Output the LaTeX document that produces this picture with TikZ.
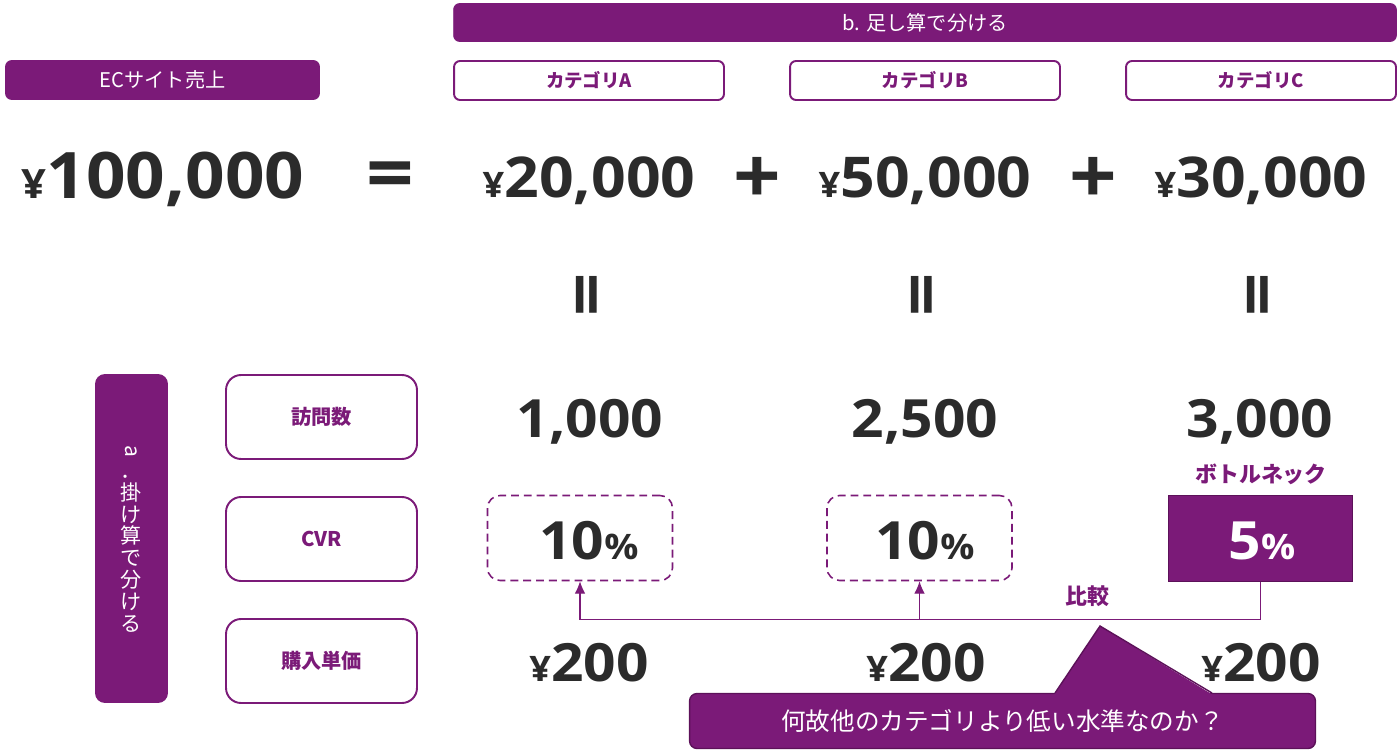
\documentclass[tikz,border=0pt]{standalone}
\usepackage{fontspec}
\setmainfont{Noto Sans CJK JP}
\newfontfamily\numfont{Open Sans}[FakeStretch=1.08]
\usetikzlibrary{arrows.meta}
\definecolor{cPurple}{HTML}{7B1A78}
\definecolor{cdPurple}{HTML}{5C1159}
\definecolor{cText}{HTML}{2B2B2B}
\newcommand{\smallyen}{{\fontsize{20}{20}\selectfont ¥}}
\newcommand{\smallpct}{{\fontsize{20}{20}\selectfont\%}}
\tikzset{>={Latex[length=7pt,width=6pt]}}
\tikzset{
	headbox/.style={fill=cPurple, draw=cPurple, rounded corners=1.2mm, text=white, font=\fontsize{11.5}{13}\selectfont},
	catbox/.style={draw=cPurple, line width=1.1pt, fill=white, rounded corners=1.2mm, minimum width=5.4cm, minimum height=0.78cm, text=cPurple, font=\bfseries\fontsize{10.5}{12}\selectfont},
	factorbox/.style={catbox, rounded corners=3mm, minimum width=3.82cm, minimum height=1.68cm, font=\bfseries\fontsize{11.5}{13}\selectfont},
	ratebox/.style={draw=cPurple, dash pattern=on 4.5pt off 2.8pt, line width=0.9pt, rounded corners=2.5mm, minimum width=3.7cm, minimum height=1.7cm},
	neckbox/.style={fill=cPurple, draw=cdPurple, line width=0.9pt, minimum width=3.68cm, minimum height=1.72cm},
	bignum/.style={anchor=base, text=cText, font=\numfont\bfseries\fontsize{32}{40}\selectfont},
	rownum/.style={anchor=base, text=cText, font=\numfont\bfseries\fontsize{30}{36}\selectfont},
	opsign/.style={text=cText, font=\numfont\bfseries\fontsize{44}{50}\selectfont},
	purpletext/.style={text=cPurple, font=\bfseries\fontsize{12.5}{14}\selectfont},
	link/.style={draw=cPurple, line width=0.6pt, ->}
}

\begin{document}
\begin{tikzpicture}[x=0.02cm, y=-0.02cm]
	\useasboundingbox (0,0) rectangle (1398,753);
	%header bars
	\node[headbox, minimum width=18.86cm, minimum height=0.76cm] (sumbar) at (925,22.5) {b. 足し算で分ける};
	\node[headbox, minimum width=6.28cm, minimum height=0.78cm] (total) at (162.5,80) {ECサイト売上};
	\foreach \x/\c in {589/A,925/B,1261/C}
	{
		\node[catbox] (cat\c) at (\x,80.5) {カテゴリ\c};
	}
	
	%sum row
	\node[bignum, font=\numfont\bfseries\fontsize{36.5}{40}\selectfont] (sales) at (163,198) {{\fontsize{23}{23}\selectfont ¥}100,000};
	\node[opsign] (eqsum) at (390,181) {=};
	\foreach \x/\c/\v in {589/A/20,925/B/50,1261/C/30}
	{
		\node[bignum] (sales\c) at (\x,197) {\smallyen\v,000};
	}
	\foreach \x in {757,1093}
	{
		\node[opsign] (plus\x) at (\x,180) {+};
	}
	\foreach \x/\c in {594/A,929/B,1265/C}
	{
		\node[opsign, rotate=90, font=\numfont\bfseries\fontsize{40}{44}\selectfont] (eq\c) at (\x,295) {=};
	}
	
	%product side
	\node[fill=cPurple, rounded corners=2mm, minimum width=1.46cm, minimum height=6.58cm, text=white, align=center, font=\fontsize{12}{12.4}\selectfont] (mult) at (131.5,538.5) {\rotatebox[origin=c]{-90}{a}\\．\\掛\\け\\算\\で\\分\\け\\る};
	\foreach \y/\t/\n in {417/訪問数/visits,539/CVR/cvr,661/購入単価/price}
	{
		\node[factorbox] (\n) at (321.5,\y) {\t};
	}
	\foreach \x/\c/\v in {590/A/{1,000},925/B/{2,500},1260/C/{3,000}}
	{
		\node[rownum] (visits\c) at (\x,437) {\v};
	}
	\node[purpletext] (neck) at (1261,474) {ボトルネック};
	
	%cvr
	\node[ratebox] (rateA) at (580,538) {};
	\node[ratebox] (rateB) at (919.5,538) {};
	\node[neckbox] (rateC) at (1260.5,538.5) {};
	\node[rownum] (cvrA) at (589,559) {10\smallpct};
	\node[rownum] (cvrB) at (925,559) {10\smallpct};
	\node[rownum, text=white] (cvrC) at (1262,559) {5\smallpct};
	
	%unit price
	\foreach \x/\c in {589/A,926/B,1261/C}
	{
		\node[rownum] (price\c) at (\x,681) {\smallyen200};
	}
	
	%comparison
	\draw[link] (rateC.south) -- ++(0,37) coordinate (cmp) -| (rateA.south);
	\draw[link] (rateB.south |- cmp) -- (rateB.south);
	\node[purpletext] (cmptext) at (1087,596) {比較};
	
	%callout
	\node[fill=cPurple, draw=cdPurple, line width=0.8pt, rounded corners=1.5mm, minimum width=12.52cm, minimum height=1.1cm, text=white, font=\fontsize{14}{16}\selectfont] (why) at (1002.5,721) {何故他のカテゴリより低い水準なのか？};
	\coordinate (tip) at (1100,626);
	\fill[cPurple] (1054,695) -- (tip) -- (1213,695) -- cycle;
	\draw[cdPurple, line width=0.8pt] (1055,693) -- (tip) -- (1212,693);
\end{tikzpicture}
\end{document}
